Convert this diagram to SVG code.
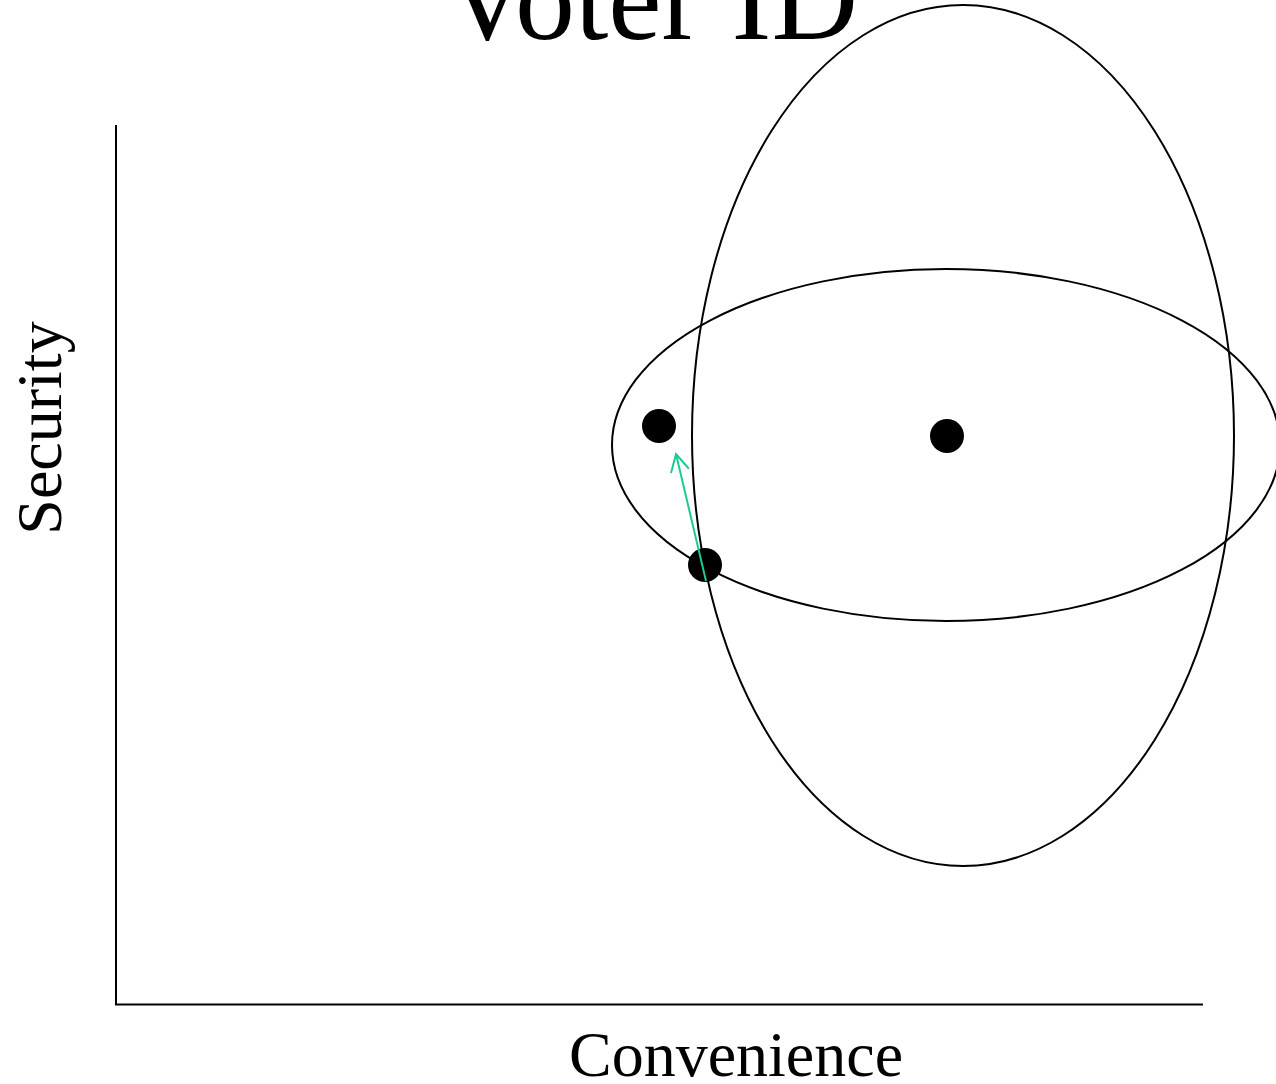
<svg xmlns="http://www.w3.org/2000/svg" width="1276" height="1084" viewBox="0 0 1276 1084">
<style>
.lbl{font-family:"Liberation Serif","Times New Roman",serif;fill:#000}
.ell{fill:none;stroke:#000;stroke-width:2}
.axis{stroke:#000;stroke-width:2;fill:none}
.dot{fill:#000}
</style>
<defs>
<marker id="ah" viewBox="-10 -2 24 24" refX="10" refY="10" markerWidth="24" markerHeight="24" markerUnits="userSpaceOnUse" orient="auto">
<path d="M-7.3,0.8 L10,10 L-7.3,19.2" fill="none" stroke="#1dc994" stroke-width="2"/>
</marker>
</defs>
<rect width="1276" height="1084" fill="#fff"/>
<text class="lbl" x="651" y="39" font-size="120" text-anchor="middle">Voter ID</text>
<g id="axes">
<line class="axis" x1="116" y1="125" x2="116" y2="1005"/>
<line class="axis" x1="115" y1="1004.5" x2="1203" y2="1004.5"/>
</g>
<text class="lbl" x="736" y="1076" font-size="64" text-anchor="middle">Convenience</text>
<text class="lbl" transform="translate(61,428) rotate(-90)" font-size="64" text-anchor="middle">Security</text>
<g id="ellipse-vertical"><ellipse class="ell" cx="963" cy="435.5" rx="271" ry="430.5"/></g>
<g id="ellipse-horizontal"><ellipse class="ell" cx="946" cy="445" rx="334" ry="176"/></g>
<g id="dot-left"><circle class="dot" cx="659" cy="426" r="17"/></g>
<g id="dot-center"><circle class="dot" cx="947" cy="436" r="17"/></g>
<g id="dot-bottom"><circle class="dot" cx="705" cy="565" r="17"/></g>
<g id="connectors">
<line x1="706" y1="581" x2="676" y2="454" stroke="#1dc994" stroke-width="2" marker-end="url(#ah)"/>
</g>
</svg>
